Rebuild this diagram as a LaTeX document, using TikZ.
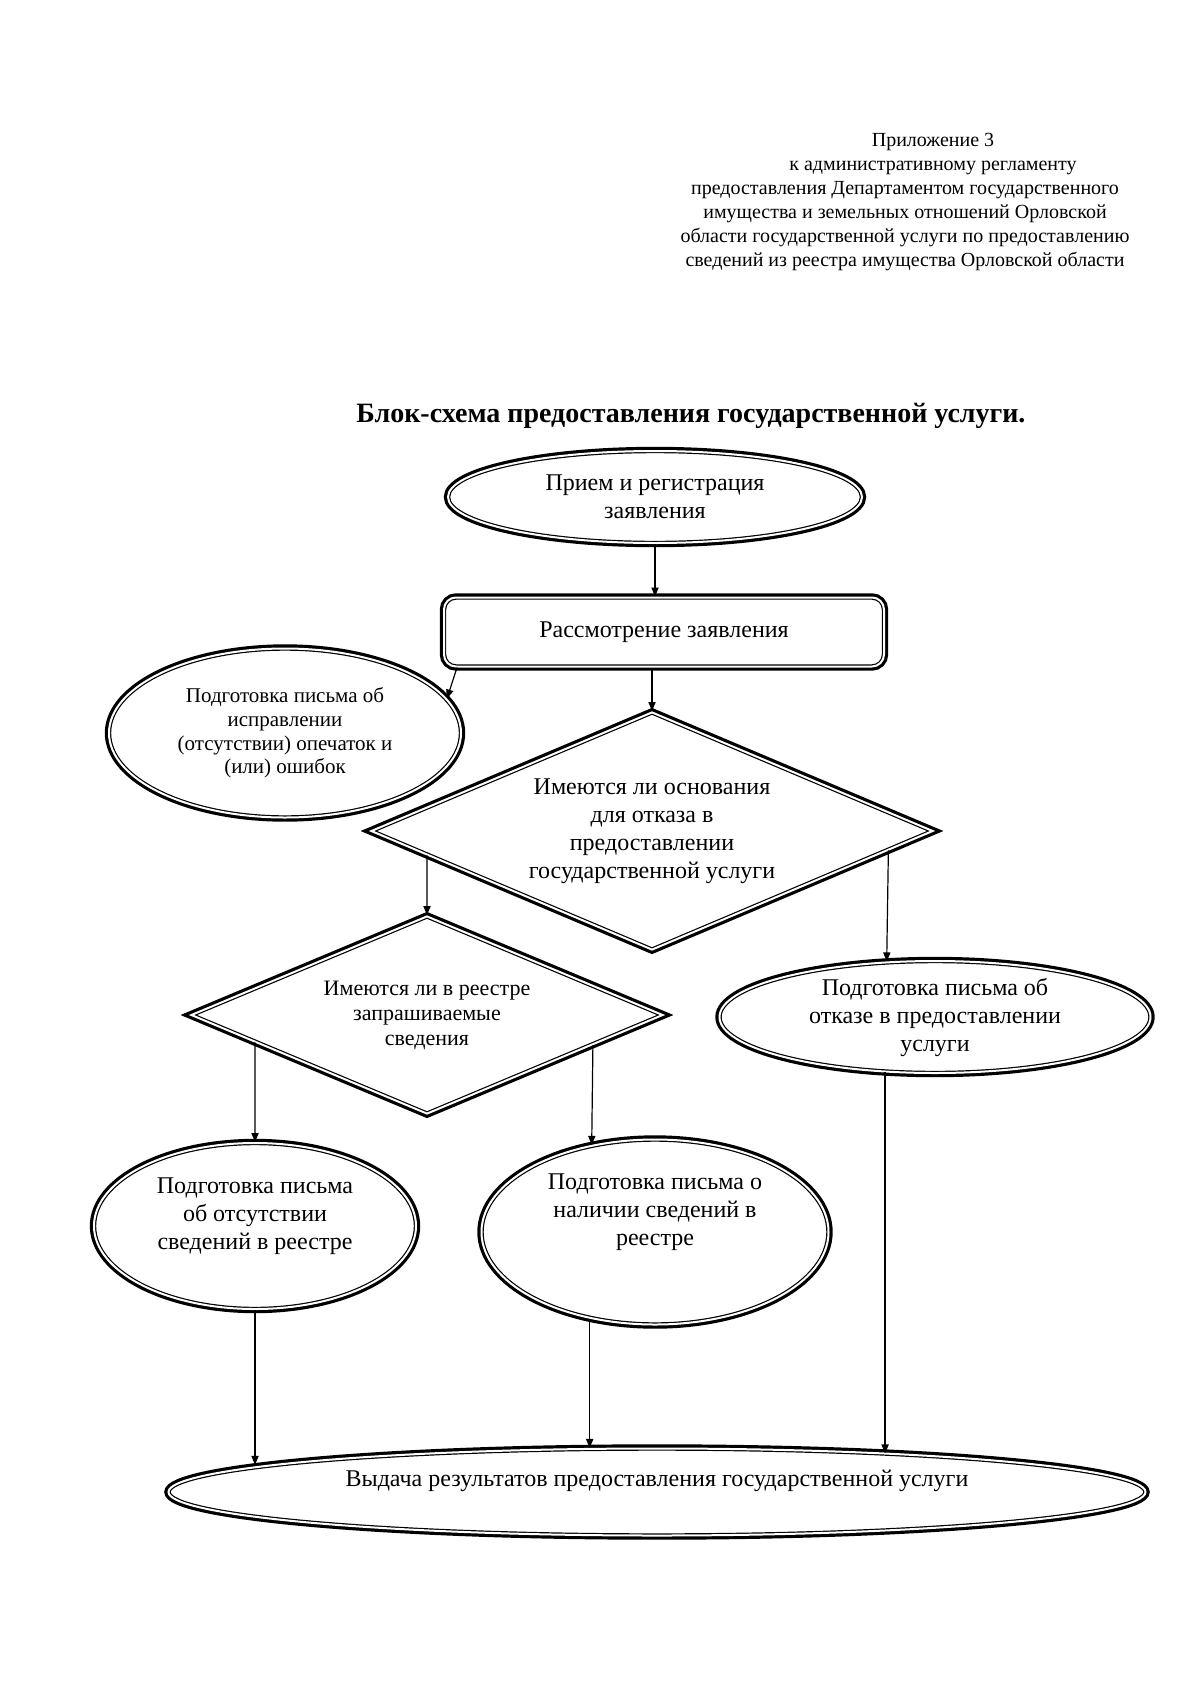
\documentclass[tikz,border=0pt]{standalone}
\usepackage{fontspec}
\setmainfont{Liberation Serif}
\usetikzlibrary{shapes.geometric,arrows.meta}
\tikzset{>={Triangle[length=4.5pt,width=3.6pt]}}
\tikzset{
  frame/.style={preaction={draw=black,line width=4.2pt},preaction={fill=white},
    preaction={draw=black,line width=2.2pt},draw=white,line width=1pt},
  oval/.style={frame,ellipse,inner sep=0pt,align=center,font=\fontsize{12}{14}\selectfont},
  box/.style={frame,rectangle,rounded corners=6pt,inner sep=0pt,align=center,font=\fontsize{12}{14}\selectfont},
  rhomb/.style={frame,diamond,inner sep=0pt,align=center,font=\fontsize{12}{14}\selectfont},
  link/.style={->,line width=0.6pt}
}
\newcommand{\liftup}[2]{\raisebox{#1}[0pt][0pt]{\begin{tabular}{@{}c@{}}#2\end{tabular}}}

\begin{document}
\begin{tikzpicture}[x=0.5pt,y=-0.5pt]
      \path[use as bounding box,fill=white] (0,0) rectangle (1200,1697);
      \node[align=center,font=\fontsize{10}{12}\selectfont] (appx) at (905,202)
        {\hspace*{28pt}Приложение 3\\\hspace*{28pt}к административному регламенту\\предоставления Департаментом государственного\\имущества и земельных отношений Орловской\\области государственной услуги по предоставлению\\сведений из реестра имущества Орловской области};
      \node[font=\fontsize{14}{16}\bfseries\selectfont] (title) at (691,416) {Блок-схема предоставления государственной услуги.};
      \node[oval,minimum width=207pt,minimum height=46pt] (recv) at (655,497) {Прием и регистрация\\заявления};
      \node[box,minimum width=220pt,minimum height=34.5pt] (review) at (664,632) {Рассмотрение заявления};
      \node[oval,font=\fontsize{10.5}{11.8}\selectfont,minimum width=176pt,minimum height=84.5pt] (fix) at (285,733) {Подготовка письма об\\исправлении\\(отсутствии) опечаток и\\(или) ошибок};
      \node[rhomb,aspect=2.4,minimum width=281pt,minimum height=119pt] (dec1) at (652,831) {Имеются ли основания\\для отказа в\\предоставлении\\государственной услуги};
      \node[rhomb,aspect=2.4,font=\fontsize{11}{12.5}\selectfont,minimum width=236pt,minimum height=99pt] (dec2) at (427,1015) {Имеются ли в реестре\\запрашиваемые\\сведения};
      \node[oval,minimum width=215.5pt,minimum height=56pt] (refuse) at (935,1017) {Подготовка письма об\\отказе в предоставлении\\услуги};
      \node[oval,minimum width=161pt,minimum height=83pt] (absent) at (255,1226) {\liftup{2.3pt}{Подготовка письма\\об отсутствии\\сведений в реестре}};
      \node[oval,minimum width=173.5pt,minimum height=92.5pt] (present) at (655,1232) {\liftup{7.3pt}{Подготовка письма о\\наличии сведений в\\реестре}};
      \node[oval,minimum width=488.5pt,minimum height=43.5pt] (final) at (657,1492) {\liftup{2.5pt}{Выдача результатов предоставления государственной услуги}};
      \draw[link] (recv.south) -- (review.north -| recv.south);
      \draw[link] ([xshift=7pt]review.south west) -- (fix.12.3);
      \draw[link] (review.south -| dec1.north) -- (dec1.north);
      \draw[link] (intersection of dec1.west--dec1.south and dec2.north--dec2.south) -- (dec2.north);
      \draw[link] (intersection of dec1.east--dec1.south and refuse.131.6--refuse.228.4) -- (refuse.131.6);
      \draw[link] (intersection of dec2.west--dec2.south and absent.north--absent.south) -- (absent.north);
      \draw[link] (intersection of dec2.east--dec2.south and present.126.7--present.233.3) -- (present.126.7);
      \draw[link] (absent.south) -- (absent.south |- final.176.5);
      \draw[link] (present.233.3) -- (present.233.3 |- final.146.9);
      \draw[link] (refuse.228.4) -- (refuse.228.4 |- final.9.6);
\end{tikzpicture}
\end{document}
